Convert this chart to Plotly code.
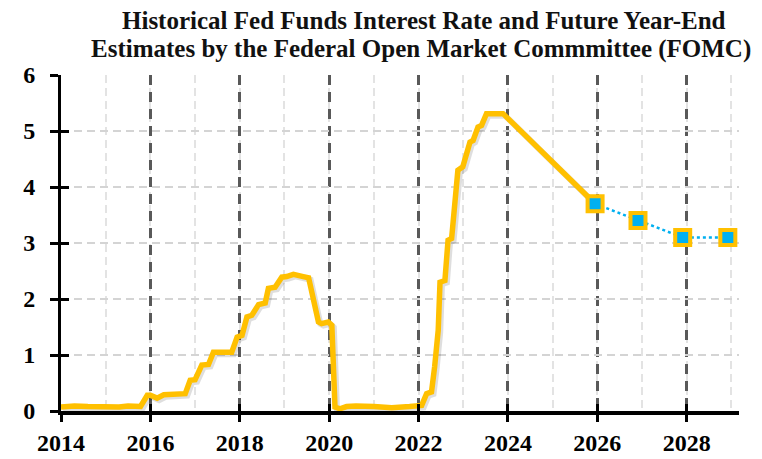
import plotly.graph_objects as go

# Historical effective fed funds rate (decimal year, percent)
hist_year = [2014.00, 2014.30, 2014.60, 2015.00, 2015.30, 2015.50, 2015.78, 2015.93, 2016.00,
             2016.15, 2016.30, 2016.78, 2016.89, 2017.00, 2017.15, 2017.30, 2017.41, 2017.82,
             2017.94, 2018.05, 2018.16, 2018.27, 2018.42, 2018.57, 2018.64, 2018.79, 2018.94,
             2019.05, 2019.20, 2019.42, 2019.54, 2019.76, 2019.83, 2019.98, 2020.06, 2020.13,
             2020.24, 2020.39, 2020.60, 2021.00, 2021.40, 2021.80, 2022.07, 2022.18, 2022.29,
             2022.36, 2022.44, 2022.48, 2022.59, 2022.66, 2022.74, 2022.88, 2022.99, 2023.15,
             2023.22, 2023.33, 2023.41, 2023.52, 2023.89]
hist_rate = [0.07, 0.09, 0.08, 0.07, 0.07, 0.09, 0.08, 0.28, 0.28,
             0.23, 0.29, 0.31, 0.55, 0.56, 0.82, 0.83, 1.05, 1.05,
             1.32, 1.35, 1.68, 1.71, 1.90, 1.93, 2.19, 2.21, 2.39,
             2.40, 2.44, 2.40, 2.38, 1.59, 1.56, 1.59, 1.53, 0.07,
             0.04, 0.08, 0.09, 0.08, 0.06, 0.08, 0.10, 0.31, 0.34,
             0.79, 1.44, 2.30, 2.33, 3.05, 3.08, 4.30, 4.36, 4.80,
             4.83, 5.07, 5.10, 5.31, 5.31]

# FOMC year-end median estimates
fomc_year = [2025.95, 2026.91, 2027.91, 2028.92]
fomc_rate = [3.7, 3.4, 3.1, 3.1]

x_ticks = [2014, 2016, 2018, 2020, 2022, 2024, 2026, 2028]
y_ticks = [0, 1, 2, 3, 4, 5, 6]

title_lines = ["Historical Fed Funds Interest Rate and Future Year-End",
               "Estimates by the Federal Open Market Commmittee (FOMC)"]

GOLD = "#FFC000"
BLUE = "#00B0F0"
XR = [2014, 2029.17]
YR = [0, 6]
FONT = "Liberation Serif, Times New Roman, serif"

line_x = hist_year + [fomc_year[0]]
line_y = hist_rate + [fomc_rate[0]]

# pixel shift for the soft shadow under the gold line
px_per_year = 678.8 / (XR[1] - XR[0])
px_per_unit = 335.7 / 6
sx = 2.0 / px_per_year
sy = 2.0 / px_per_unit

fig = go.Figure()

# invisible trace keeps the base axes (grid, labels) alive
fig.add_trace(go.Scatter(x=[XR[0]], y=[YR[0]], mode="markers", marker=dict(opacity=0),
                         hoverinfo="skip", showlegend=False))

# shadow (x2/y2, shifted ranges)
fig.add_trace(go.Scatter(x=line_x, y=line_y, mode="lines", xaxis="x2", yaxis="y2",
                         line=dict(color="rgba(0,0,0,0.13)", width=6),
                         hoverinfo="skip", showlegend=False))

fig.add_trace(go.Scatter(x=line_x, y=line_y, mode="lines", xaxis="x3", yaxis="y3",
                         line=dict(color=GOLD, width=5.5, shape="linear"),
                         showlegend=False, name="Fed Funds"))

fig.add_trace(go.Scatter(x=fomc_year, y=fomc_rate, mode="lines+markers",
                         xaxis="x3", yaxis="y3",
                         line=dict(color=BLUE, width=2.5, dash="dot"),
                         marker=dict(symbol="square", size=15, color=BLUE,
                                     line=dict(color=GOLD, width=4)),
                         showlegend=False, name="FOMC"))

annotations = []
for i, t in enumerate(title_lines):
    annotations.append(dict(text=f"<b>{t}</b>", xref="paper", yref="paper",
                            x=0.535 if i == 0 else 0.531,
                            y=1.161 if i == 0 else 1.076,
                            xanchor="center", yanchor="middle", showarrow=False,
                            font=dict(family=FONT, size=25, color="#111")))

fig.update_layout(
    width=762, height=459,
    margin=dict(l=60.5, r=22.7, t=75, b=48.3, autoexpand=False),
    paper_bgcolor="white", plot_bgcolor="white",
    annotations=annotations,
    xaxis=dict(range=XR, tickvals=x_ticks, ticktext=[f"<b>{v}</b>" for v in x_ticks],
               tickfont=dict(family=FONT, size=24, color="#000"),
               showline=True, linecolor="#000", linewidth=4,
               ticks="outside", ticklen=7, tickwidth=3, tickcolor="#000",
               ticklabelstandoff=0, automargin=False,
               showgrid=True, gridcolor="#595959", gridwidth=3, griddash="10px,7px",
               minor=dict(tick0=2015, dtick=1, showgrid=True, gridcolor="#e3e3e3",
                          gridwidth=1.5, griddash="8px,5px", ticks=""),
               zeroline=False, fixedrange=True),
    yaxis=dict(range=YR, tickvals=y_ticks, ticktext=[f"<b>{v}</b>" for v in y_ticks],
               tickfont=dict(family=FONT, size=24, color="#000"),
               showline=True, linecolor="#000", linewidth=3,
               ticks="outside", ticklen=8, tickwidth=3, tickcolor="#000",
               ticklabelstandoff=10, automargin=False,
               showgrid=True, gridcolor="#d4d4d4", gridwidth=1.5, griddash="8px,5px",
               zeroline=False, fixedrange=True),
    xaxis2=dict(range=[XR[0] - sx, XR[1] - sx], overlaying="x", visible=False),
    yaxis2=dict(range=[YR[0] + sy, YR[1] + sy], overlaying="y", visible=False),
    xaxis3=dict(range=XR, overlaying="x", tickvals=x_ticks, showticklabels=False,
                ticks="inside", ticklen=7, tickwidth=3, tickcolor="#000",
                showgrid=False, zeroline=False, showline=False),
    yaxis3=dict(range=YR, overlaying="y", tickvals=y_ticks, showticklabels=False,
                ticks="inside", ticklen=8, tickwidth=3, tickcolor="#000",
                showgrid=False, zeroline=False, showline=False),
)

fig.write_html("out.html")
